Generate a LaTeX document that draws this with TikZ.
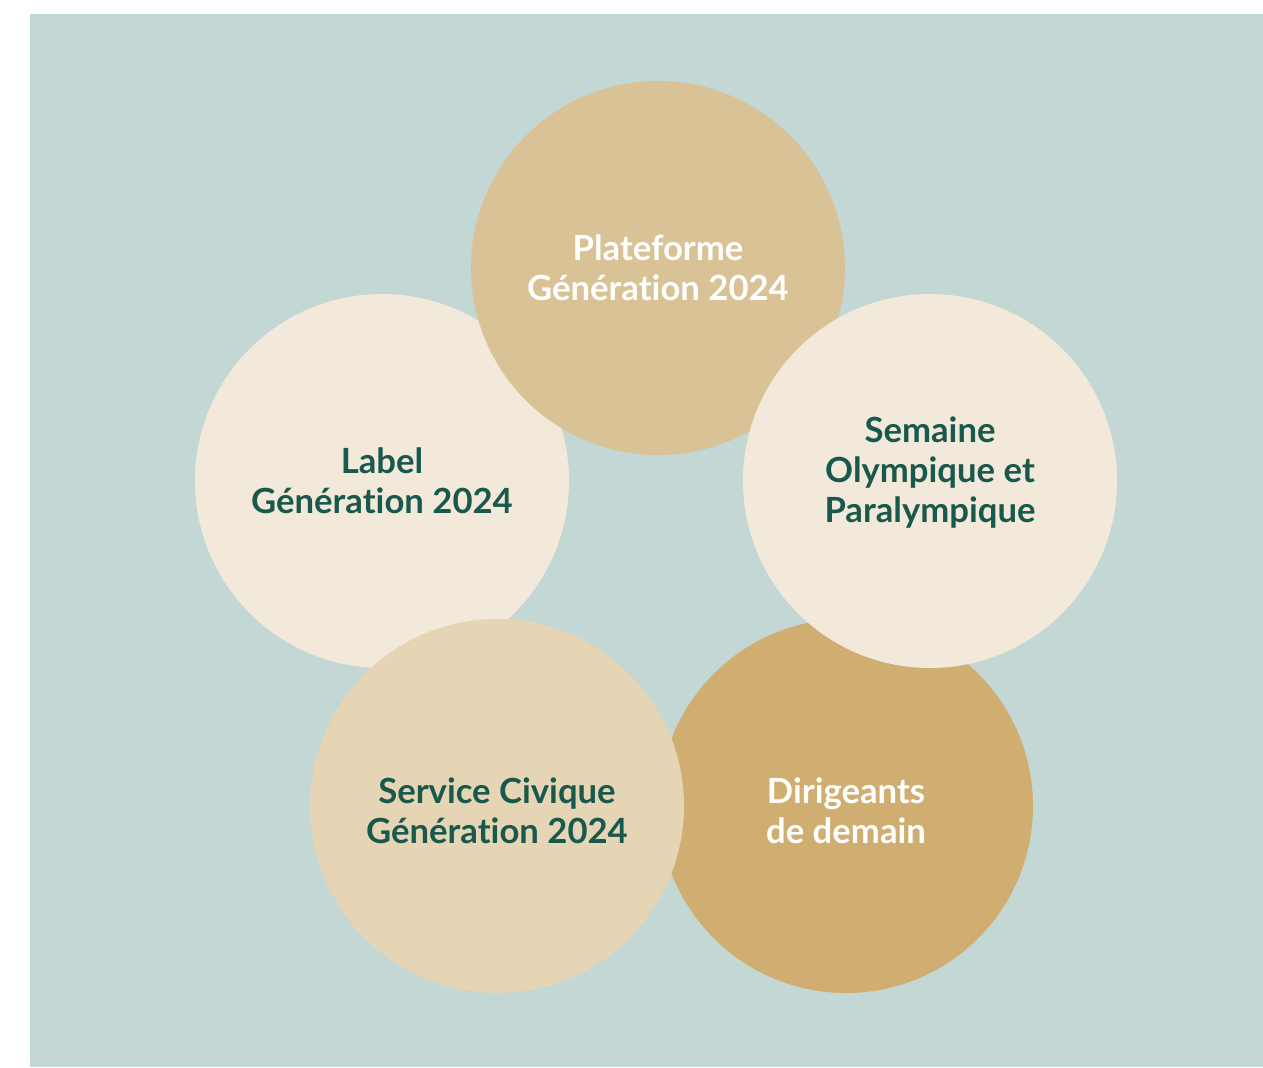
\documentclass[tikz,border=0pt]{standalone}
\usepackage{fontspec}
\setmainfont{Lato}[Ligatures=NoCommon]
\usepackage{tikz}
\usetikzlibrary{positioning, calc}
\definecolor{Sage}{RGB}{195,215,212}
\definecolor{Sand}{RGB}{217,194,149}
\definecolor{Cream}{RGB}{243,233,218}
\definecolor{Wheat}{RGB}{230,213,181}
\definecolor{Ochre}{RGB}{208,173,112}
\definecolor{Pine}{RGB}{25,88,76}

\begin{document}
\begin{tikzpicture}[x=0.75pt,y=-0.75pt,
    disc/.style={circle, minimum size=280.5pt, inner sep=0pt},
    caption/.style={align=center, inner sep=0pt,
        font=\fontsize{26}{30}\selectfont\bfseries}]

    \useasboundingbox (0,0) rectangle (1263,1067);

    % background panel
    \fill[Sage] (30,14) rectangle (1263,1067);

    % circles, back to front
    \node[disc, fill=Cream] (label) at (382,481) {};
    \node[disc, fill=Ochre] (leaders) at (846,806) {};
    \node[disc, fill=Sand] (platform) at (658,268) {};
    \node[disc, fill=Cream] (week) at (930,481) {};
    \node[disc, fill=Wheat] (civic) at (497,806) {};

    % texts
    \node[caption, text=Pine] (labeltxt) at (label.center) {Label\\G\'en\'eration 2024};
    \node[caption, text=white] (leaderstxt) at ([yshift=-3.75pt]leaders.center) {Dirigeants\\de demain};
    \node[caption, text=white] (platformtxt) at (platform.center) {Plateforme\\G\'en\'eration 2024};
    \node[caption, text=Pine] (weektxt) at ([yshift=6pt]week.center) {Semaine\\Olympique et\\Paralympique};
    \node[caption, text=Pine] (civictxt) at ([yshift=-3.75pt]civic.center) {Service Civique\\G\'en\'eration 2024};

\end{tikzpicture}
\end{document}
